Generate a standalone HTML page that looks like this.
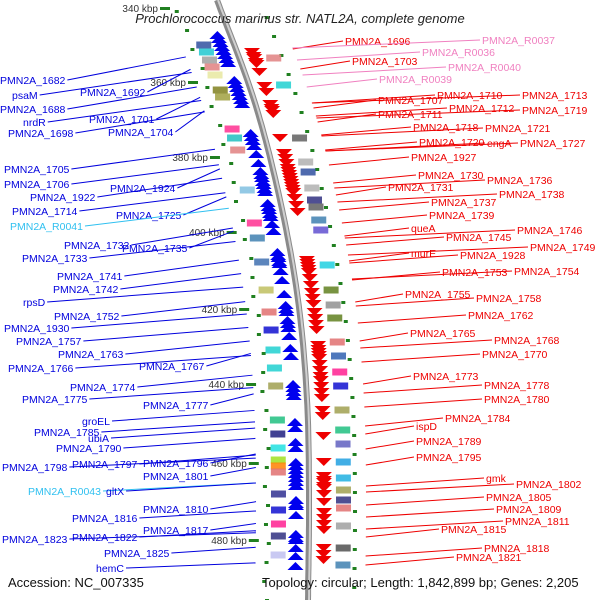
<!DOCTYPE html>
<html><head><meta charset="utf-8"><style>
body{margin:0;background:#fff}
svg{display:block;font-family:"Liberation Sans","DejaVu Sans",sans-serif}
</style></head><body>
<svg id="c" width="600" height="600" viewBox="0 0 600 600">
<g id="marks"></g>
<text x="300" y="23" text-anchor="middle" font-size="13" font-style="italic" fill="#222">Prochlorococcus marinus str. NATL2A, complete genome</text>
<text x="8" y="587" font-size="13" fill="#111">Accession: NC_007335</text>
<text x="262" y="587" font-size="13" fill="#111">Topology: circular; Length: 1,842,899 bp; Genes: 2,205</text>
</svg>
<script>
const arcYs=[0,100,200,300,400,500,600];
const arcXs=[217,254,280,298,307,309,308];
const leftNames=["PMN2A_1682","psaM","PMN2A_1688","nrdR","PMN2A_1698","PMN2A_1692","PMN2A_1701","PMN2A_1704","PMN2A_1705","PMN2A_1706","PMN2A_1924","PMN2A_1922","PMN2A_1714","PMN2A_1725","PMN2A_R0041","PMN2A_1732","PMN2A_1735","PMN2A_1733","PMN2A_1741","PMN2A_1742","rpsD","PMN2A_1752","PMN2A_1930","PMN2A_1757","PMN2A_1763","PMN2A_1767","PMN2A_1766","PMN2A_1774","PMN2A_1775","PMN2A_1777","groEL","PMN2A_1785","ubiA","PMN2A_1790","PMN2A_1798","PMN2A_1797","PMN2A_1796","PMN2A_1801","PMN2A_R0043","gltX","PMN2A_1810","PMN2A_1816","PMN2A_1817","PMN2A_1823","PMN2A_1822","PMN2A_1825","hemC"];
const leftX=[0,12,0,23,8,80,89,108,4,4,110,30,12,116,10,64,122,22,57,53,23,54,4,16,58,139,8,70,22,143,82,34,88,56,2,72,143,143,28,106,143,72,143,2,72,104,96];
const leftY=[80,95,109,122,133,92,119,132,169,184,188,197,211,215,226,245,248,258,276,289,302,316,328,341,354,366,368,387,399,405,421,432,438,448,467,464,463,476,491,491,509,518,530,539,537,553,568];
const rightNames=["PMN2A_1696","PMN2A_R0037","PMN2A_R0036","PMN2A_1703","PMN2A_R0040","PMN2A_R0039","PMN2A_1707","PMN2A_1710","PMN2A_1713","PMN2A_1712","PMN2A_1719","PMN2A_1711","PMN2A_1718","PMN2A_1721","PMN2A_1720","engA","PMN2A_1727","PMN2A_1927","PMN2A_1730","PMN2A_1736","PMN2A_1731","PMN2A_1738","PMN2A_1737","PMN2A_1739","queA","PMN2A_1746","PMN2A_1745","PMN2A_1749","murE","PMN2A_1928","PMN2A_1753","PMN2A_1754","PMN2A_1755","PMN2A_1758","PMN2A_1762","PMN2A_1765","PMN2A_1768","PMN2A_1770","PMN2A_1773","PMN2A_1778","PMN2A_1780","PMN2A_1784","ispD","PMN2A_1789","PMN2A_1795","gmk","PMN2A_1802","PMN2A_1805","PMN2A_1809","PMN2A_1811","PMN2A_1815","PMN2A_1818","PMN2A_1821"];
const rightX=[345,482,422,352,448,379,378,437,522,449,522,378,413,485,419,487,520,411,418,487,388,499,431,429,411,517,446,530,411,460,442,514,405,476,468,410,494,482,413,484,484,445,416,416,416,486,516,486,496,505,441,484,456];
const rightY=[41,40,52,61,67,79,100,95,95,108,110,114,127,128,142,143,143,157,175,180,187,194,202,215,228,230,237,247,253,255,272,271,294,298,315,333,340,354,376,385,399,418,426,441,457,478,484,497,509,521,529,548,557];
const kbpLabels=["340 kbp","360 kbp","380 kbp","400 kbp","420 kbp","440 kbp","460 kbp","480 kbp"];
const kbpY=[8,82,157,232,309,384,463,540];
const blueGenes=[35,39,43,47,51,55,59,63,80,84,88,92,96,100,104,133,137,141,146,154,163,171,175,178,182,185,189,192,203,207,210,214,217,224,231,252,256,258,262,264,271,280,294,305,309,312,320,324,328,336,348,356,384,388,392,396,422,428,442,448,462,466,470,474,478,482,486,500,504,506,515,534,538,540,548,556,566];
const redGenes=[52,56,58,62,64,72,86,92,104,108,110,114,138,153,158,163,168,171,174,177,180,183,186,189,192,198,205,212,260,263,266,269,272,278,285,292,298,304,312,318,324,330,345,349,352,355,358,364,370,376,380,386,392,398,410,416,436,462,476,480,482,486,488,494,502,512,518,524,530,548,554,560];
const blueBoxY=[45,52,60,67,75,90,97,129,138,150,190,223,238,262,290,312,330,350,368,386,420,434,448,460,466,472,494,510,524,536,555];
const blueBoxC=["#3050a0","#20c8d0","#a0a0a0","#e08080","#e8e8a0","#808020","#a0a040","#ff3090","#20c0c0","#e08080","#80c0e0","#ff3090","#4080b0","#4070b0","#c0c060","#e07070","#1010d0","#20d0d0","#20d0d0","#a0a050","#20c080","#202080","#20e0e0","#a0e020","#ff8000","#e07070","#303090","#1010d0","#ff2090","#303080","#c0c0f0"];
const redBoxY=[58,85,138,162,172,188,200,207,220,230,265,290,305,318,342,356,372,386,410,430,444,462,478,490,500,508,526,548,565];
const redBoxC=["#e08080","#20d0d0","#606060","#b0b0b0","#3050a0","#b0b0b0","#303080","#606060","#4080b0","#6050d0","#20d0e0","#608020","#909090","#608020","#e07070","#3060b0","#ff2090","#1010d0","#a0a050","#20c080","#6060c0","#20a0e0","#20b0e0","#a0a050","#303080","#e07070","#a0a0a0","#505050","#4080b0"];
const NS="http://www.w3.org/2000/svg";
const g=document.getElementById('marks');
function arcX(y){for(let i=0;i<arcYs.length-1;i++){if(y<=arcYs[i+1]){const t=(y-arcYs[i])/(arcYs[i+1]-arcYs[i]);const a=arcXs[i],b=arcXs[i+1];const m0=i>0?(arcXs[i+1]-arcXs[i-1])/2:b-a;const m1=i<arcXs.length-2?(arcXs[i+2]-a)/2:b-a;const t2=t*t,t3=t2*t;return (2*t3-3*t2+1)*a+(t3-2*t2+t)*m0+(-2*t3+3*t2)*b+(t3-t2)*m1;}}return arcXs[arcXs.length-1];}
function el(tag,attrs){const e=document.createElementNS(NS,tag);for(const k in attrs)e.setAttribute(k,attrs[k]);g.appendChild(e);return e;}
let d="";for(let y=0;y<=600;y+=5)d+=(y?"L":"M")+arcX(y).toFixed(1)+" "+y;
const bb=el('path',{d:d,stroke:"#8a8a8a","stroke-width":6,fill:"none"});


const bb2=el('path',{d:d,stroke:"#d0d0d0","stroke-width":2,fill:"none",transform:"translate(1,0)"});


for(let y=10;y<600;y+=19){const ax=arcX(y);
const t1=el('rect',{x:ax-46+((y*7)%5),y:y,width:4,height:3,fill:"#208020"});


const t2=el('rect',{x:ax+44+((y*5)%5),y:y+6,width:4,height:3,fill:"#208020"});

}
kbpLabels.forEach((s,i)=>{const y=kbpY[i];const ax=arcX(y);
const ln=el('rect',{x:ax-60,y:y-1,width:10,height:3,fill:"#208020"});


const t=el('text',{x:ax-62,y:y+4,"font-size":10,"text-anchor":"end",fill:"#333"});t.textContent=s;

});
blueBoxY.forEach((y,i)=>{const ax=arcX(y);const r=el('rect',{x:ax-38,y:y-3.5,width:15,height:7,fill:blueBoxC[i],opacity:0.85});

});
redBoxY.forEach((y,i)=>{const ax=arcX(y);const r=el('rect',{x:ax+27,y:y-3.5,width:15,height:7,fill:redBoxC[i],opacity:0.85});

});
blueGenes.forEach(y=>{const ax=arcX(y);const x=ax-13;
const p=el('polygon',{points:`${x-8},${y+4} ${x},${y-4} ${x+8},${y+4}`,fill:"#0000ee"});

});
redGenes.forEach(y=>{const ax=arcX(y);const x=ax+15;
const p=el('polygon',{points:`${x-8},${y-4} ${x},${y+4} ${x+8},${y-4}`,fill:"#ee0000"});

});
leftNames.forEach((s,i)=>{const y=leftY[i];const col=s.indexOf("R00")>=0?"#30c0f0":"#0000dd";
const t=el('text',{x:leftX[i],y:y+4,"font-size":10.5,fill:col});t.textContent=s;


const w=t.getComputedTextLength();const ty=y-22*(1-y/600)-4;const tx=arcX(ty)-53;
const l=el('line',{x1:leftX[i]+w+2,y1:y,x2:tx,y2:ty,stroke:col,"stroke-width":1});

});
rightNames.forEach((s,i)=>{const y=rightY[i];const col=s.indexOf("R00")>=0?"#f080c0":"#ee0000";
const t=el('text',{x:rightX[i],y:y+4,"font-size":10.5,fill:col});t.textContent=s;


const ty=y+8;const tx=arcX(ty)+57;
const l=el('line',{x1:tx,y1:ty,x2:rightX[i]-2,y2:y,stroke:col,"stroke-width":1});

});
</script>
</body></html>
